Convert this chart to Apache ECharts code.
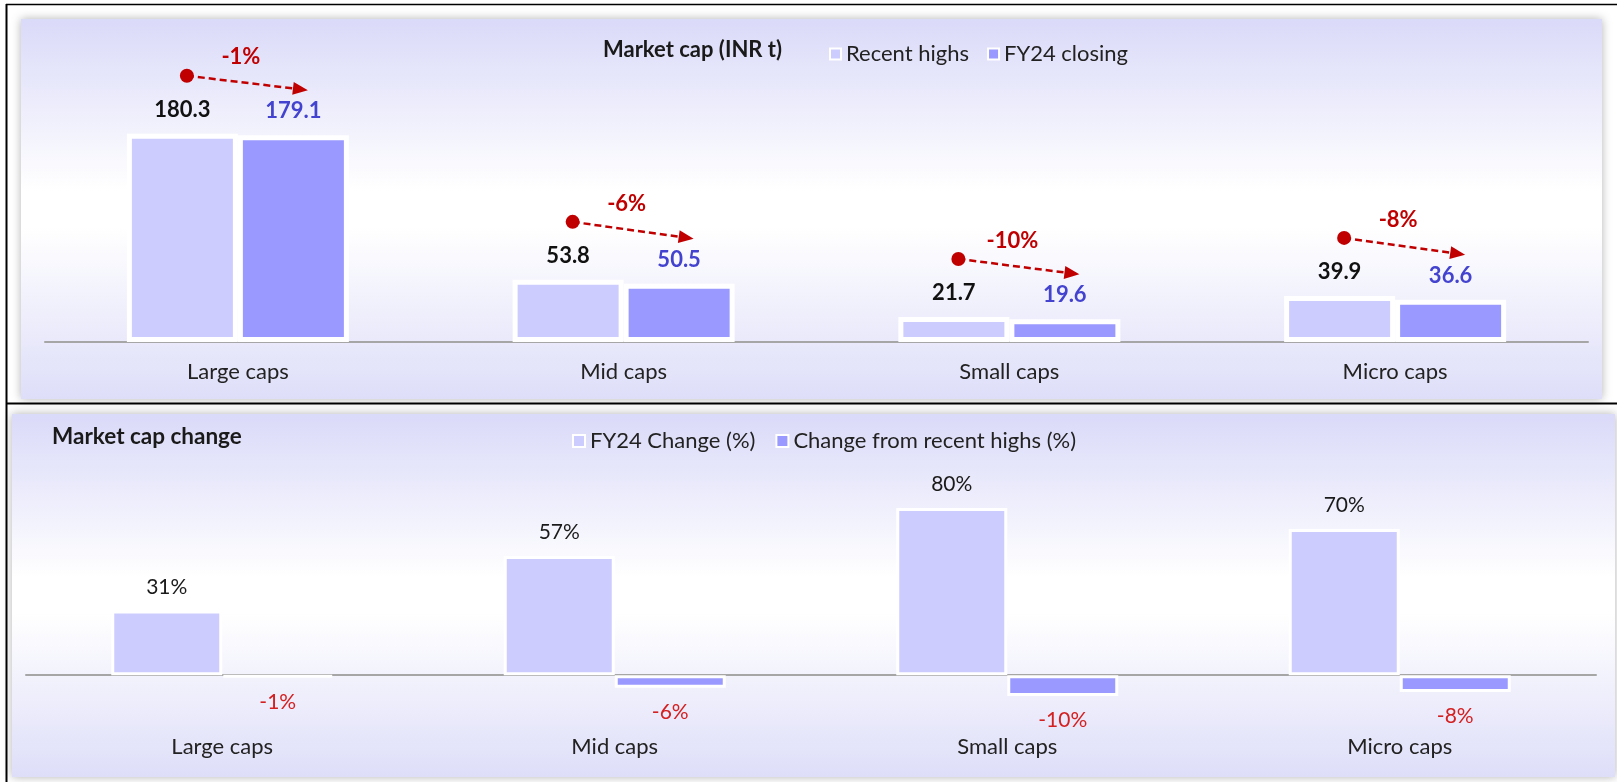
<!DOCTYPE html>
<html><head><meta charset="utf-8">
<script src="https://cdn.jsdelivr.net/npm/echarts/dist/echarts.min.js"></script>
<style>html,body{margin:0;padding:0;background:#fff}#c{width:1617px;height:782px}</style>
</head><body><div id="c"></div>
<script>
// ---- data ----
const categories = ['Large caps', 'Mid caps', 'Small caps', 'Micro caps'];
const recentHighs = [180.3, 53.8, 21.7, 39.9];
const fy24Closing = [179.1, 50.5, 19.6, 36.6];
const fy24Change = [31, 57, 80, 70];
const changeFromHighs = [-1, -6, -10, -8];
const topTitle = 'Market cap (INR t)';
const bottomTitle = 'Market cap change';
const topLegend = ['Recent highs', 'FY24 closing'];
const bottomLegend = ['FY24 Change (%)', 'Change from recent highs (%)'];

// ---- style ----
const FONT = 'Lato';
const LIGHT = '#ccccff';
const DARK = '#9999ff';
const RED = '#c00000';

const chart = echarts.init(document.getElementById('c'), null, {renderer: 'canvas'});

function panelGrad() {
  return new echarts.graphic.LinearGradient(0, 0, 0, 1, [
    {offset: 0, color: '#dadaf9'},
    {offset: 0.45, color: '#ffffff'},
    {offset: 0.55, color: '#ffffff'},
    {offset: 1, color: '#dedef9'}
  ]);
}

const arrowData = categories.map((c, i) => [i, recentHighs[i], fy24Closing[i], changeFromHighs[i]]);

const option = {
  animation: false,
  backgroundColor: '#ffffff',
  textStyle: {fontFamily: FONT},
  graphic: [
    {type: 'rect', z: 0, shape: {x: 21, y: 19, width: 1581, height: 380},
      style: {fill: panelGrad(), shadowBlur: 9, shadowColor: 'rgba(0,0,0,0.3)'}},
    {type: 'rect', z: 0, shape: {x: 12, y: 414, width: 1603, height: 363},
      style: {fill: panelGrad(), shadowBlur: 9, shadowColor: 'rgba(0,0,0,0.3)'}},
    {type: 'line', z: 1, shape: {x1: 6, y1: 4.5, x2: 1617, y2: 4.5}, style: {stroke: '#000', lineWidth: 1.6}},
    {type: 'line', z: 1, shape: {x1: 6.5, y1: 4, x2: 6.5, y2: 782}, style: {stroke: '#000', lineWidth: 2}},
    {type: 'line', z: 1, shape: {x1: 6, y1: 403.5, x2: 1617, y2: 403.5}, style: {stroke: '#000', lineWidth: 2.2}}
  ],
  title: [
    {text: topTitle, left: 603, top: 39, padding: 0,
      textStyle: {fontFamily: FONT, fontSize: 22, fontWeight: 'bold', color: '#1a1a1a'}},
    {text: bottomTitle, left: 52, top: 425, padding: 0,
      textStyle: {fontFamily: FONT, fontSize: 22.5, fontWeight: 'bold', color: '#1a1a1a'}}
  ],
  legend: [
    {data: topLegend, left: 829, top: 43, padding: 0, itemGap: 18, itemWidth: 11, itemHeight: 11, icon: 'rect',
      itemStyle: {borderColor: '#fff', borderWidth: 2},
      textStyle: {fontFamily: FONT, fontSize: 22, color: '#222'}},
    {data: bottomLegend, left: 572, top: 430, padding: 0, itemGap: 20, itemWidth: 12, itemHeight: 12, icon: 'rect',
      itemStyle: {borderColor: '#fff', borderWidth: 2},
      textStyle: {fontFamily: FONT, fontSize: 22, color: '#222'}}
  ],
  grid: [
    {left: 45, width: 1543, top: 111, height: 231, outerBoundsMode: 'none'},
    {left: 26, width: 1570, top: 508, height: 209, outerBoundsMode: 'none'}
  ],
  xAxis: [
    {type: 'category', gridIndex: 0, data: categories,
      axisLine: {lineStyle: {color: '#a6a6a6', width: 2}}, axisTick: {show: false},
      axisLabel: {margin: 19, fontFamily: FONT, fontSize: 22, color: '#222'}},
    {type: 'category', gridIndex: 1, data: categories,
      axisLine: {onZero: true, lineStyle: {color: '#a6a6a6', width: 2}}, axisTick: {show: false},
      axisLabel: {margin: 19, fontFamily: FONT, fontSize: 22, color: '#222'}}
  ],
  yAxis: [
    {type: 'value', gridIndex: 0, min: 0, max: 200, show: false, splitLine: {show: false}},
    {type: 'value', gridIndex: 1, min: -20, max: 80, show: false, splitLine: {show: false}}
  ],
  series: [
    {name: topLegend[0], type: 'bar', xAxisIndex: 0, yAxisIndex: 0, data: recentHighs,
      barWidth: 111, barGap: '0%',
      itemStyle: {color: LIGHT, borderColor: '#fff', borderWidth: 5},
      label: {show: true, position: 'top', distance: 13, fontFamily: FONT, fontSize: 22, fontWeight: 'bold', color: '#111'}},
    {name: topLegend[1], type: 'bar', xAxisIndex: 0, yAxisIndex: 0, data: fy24Closing,
      barWidth: 111, barGap: '0%',
      itemStyle: {color: DARK, borderColor: '#fff', borderWidth: 5},
      label: {show: true, position: 'top', distance: 13, fontFamily: FONT, fontSize: 22, fontWeight: 'bold', color: '#4343cf'}},
    {name: 'annot', type: 'custom', xAxisIndex: 0, yAxisIndex: 0, data: arrowData,
      encode: {x: 0, y: [1, 2]}, z: 5,
      renderItem: function (params, api) {
        const idx = api.value(0);
        const cx = api.coord([idx, 0])[0];
        const yR = api.coord([idx, api.value(1)])[1];
        const yF = api.coord([idx, api.value(2)])[1];
        const x1 = cx - 51, y1 = yR - 58;
        const x2 = cx + 70, y2 = yF - 45;
        const ang = Math.atan2(y2 - y1, x2 - x1);
        const L = 15, W = 6.5;
        const bx = x2 - L * Math.cos(ang), by = y2 - L * Math.sin(ang);
        const nx = -Math.sin(ang), ny = Math.cos(ang);
        return {type: 'group', children: [
          {type: 'line', shape: {x1: x1, y1: y1, x2: bx, y2: by},
            style: {stroke: RED, lineWidth: 2.5, lineDash: [7, 4]}},
          {type: 'polygon', shape: {points: [[x2, y2], [bx + nx * W, by + ny * W], [bx - nx * W, by - ny * W]]},
            style: {fill: RED}},
          {type: 'circle', shape: {cx: x1, cy: y1, r: 7}, style: {fill: RED}},
          {type: 'text', style: {text: api.value(3) + '%', x: cx + 3, y: (y1 + y2) / 2 - 26,
            fill: RED, fontFamily: FONT, fontSize: 22, fontWeight: 'bold', align: 'center', verticalAlign: 'middle'}}
        ]};
      }
    },
    {name: bottomLegend[0], type: 'bar', xAxisIndex: 1, yAxisIndex: 1, data: fy24Change,
      barWidth: 111, barGap: '0%',
      itemStyle: {color: LIGHT, borderColor: '#fff', borderWidth: 3},
      label: {show: true, position: 'top', distance: 13, formatter: '{c}%', fontFamily: FONT, fontSize: 21, color: '#1a1a1a'}},
    {name: bottomLegend[1], type: 'bar', xAxisIndex: 1, yAxisIndex: 1, data: changeFromHighs,
      barWidth: 111, barGap: '0%',
      itemStyle: {color: DARK, borderColor: '#fff', borderWidth: 3},
      label: {show: true, position: 'bottom', distance: 14, formatter: '{c}%', fontFamily: FONT, fontSize: 21, color: '#d42020'}}
  ]
};
chart.setOption(option);
</script>
</body></html>
